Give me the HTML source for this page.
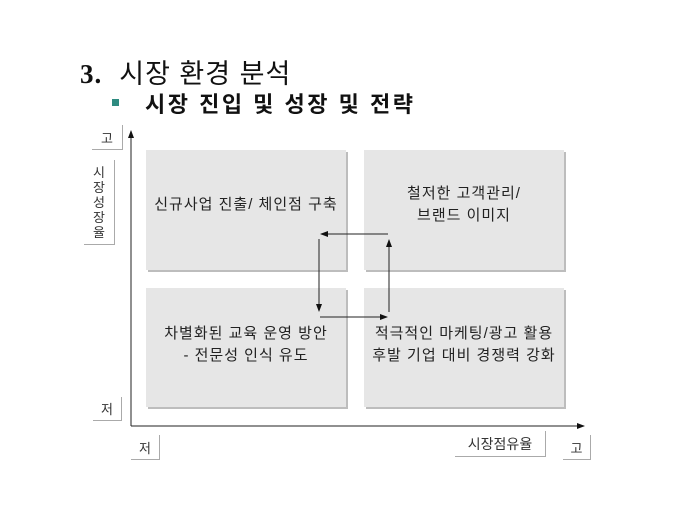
<!DOCTYPE html>
<html><head><meta charset="utf-8"><style>
body{margin:0;width:680px;height:510px;background:#fff;position:relative;overflow:hidden;font-family:"Liberation Sans","Noto Sans CJK KR","NanumGothic",sans-serif;color:#111}
.a{position:absolute}
.q{position:absolute;background:#e6e6e6;box-shadow:2px 2px 0 #bdbdbd;display:flex;align-items:center;justify-content:center;text-align:center;font-size:15px;letter-spacing:1px;line-height:22px;color:#222}
.lb{position:absolute;border-right:1px solid #aaa;border-bottom:1px solid #aaa;font-size:13px;color:#333;display:flex;align-items:center;justify-content:center;background:#fff}
</style></head><body>
<div class="a" style="left:80px;top:52px;font-size:27px;letter-spacing:1px"><b style="font-family:'Liberation Serif',serif">3.</b>&nbsp; 시장 환경 분석</div>
<div class="a" style="left:112px;top:99px;width:7px;height:7px;background:#2e8b80"></div>
<div class="a" style="left:145px;top:87px;font-size:22px;font-weight:bold;letter-spacing:2.5px">시장 진입 및 성장 및 전략</div>

<div class="q" style="left:146px;top:150px;width:200px;height:120px;padding-bottom:10px;box-sizing:border-box">신규사업 진출/ 체인점 구축</div>
<div class="q" style="left:364px;top:150px;width:200px;height:120px;padding-bottom:10px;box-sizing:border-box">철저한 고객관리/<br>브랜드 이미지</div>
<div class="q" style="left:146px;top:288px;width:200px;height:119px;box-sizing:border-box;padding-bottom:6px">차별화된 교육 운영 방안<br>- 전문성 인식 유도</div>
<div class="q" style="left:364px;top:288px;width:200px;height:119px;box-sizing:border-box;padding-bottom:6px">적극적인 마케팅/광고 활용<br>후발 기업 대비 경쟁력 강화</div>

<div class="lb" style="left:92px;top:125px;width:30px;height:24px">고</div>
<div class="lb" style="left:84px;top:160px;width:30px;height:84px;flex-direction:column;line-height:15px;font-size:13px">시<br>장<br>성<br>장<br>율</div>
<div class="lb" style="left:93px;top:397px;width:28px;height:23px">저</div>
<div class="lb" style="left:131px;top:435px;width:28px;height:24px">저</div>
<div class="lb" style="left:455px;top:431px;width:90px;height:25px;font-size:14px">시장점유율</div>
<div class="lb" style="left:563px;top:435px;width:27px;height:24px">고</div>

<svg class="a" style="left:0;top:0" width="680" height="510">
<defs><marker id="m" markerWidth="8" markerHeight="6" refX="7" refY="3" orient="auto" markerUnits="userSpaceOnUse"><path d="M0,0 L8,3 L0,6z" fill="#111"/></marker></defs>
<g stroke="#222" stroke-width="1" fill="none">
<line x1="131" y1="426" x2="131" y2="131" marker-end="url(#m)"/>
<line x1="131" y1="426" x2="584" y2="426" marker-end="url(#m)"/>
<line x1="388" y1="234" x2="321" y2="234" marker-end="url(#m)"/>
<line x1="319" y1="239" x2="319" y2="311" marker-end="url(#m)"/>
<line x1="320" y1="317" x2="387" y2="317" marker-end="url(#m)"/>
<line x1="389" y1="312" x2="389" y2="240" marker-end="url(#m)"/>
</g></svg>
</body></html>
